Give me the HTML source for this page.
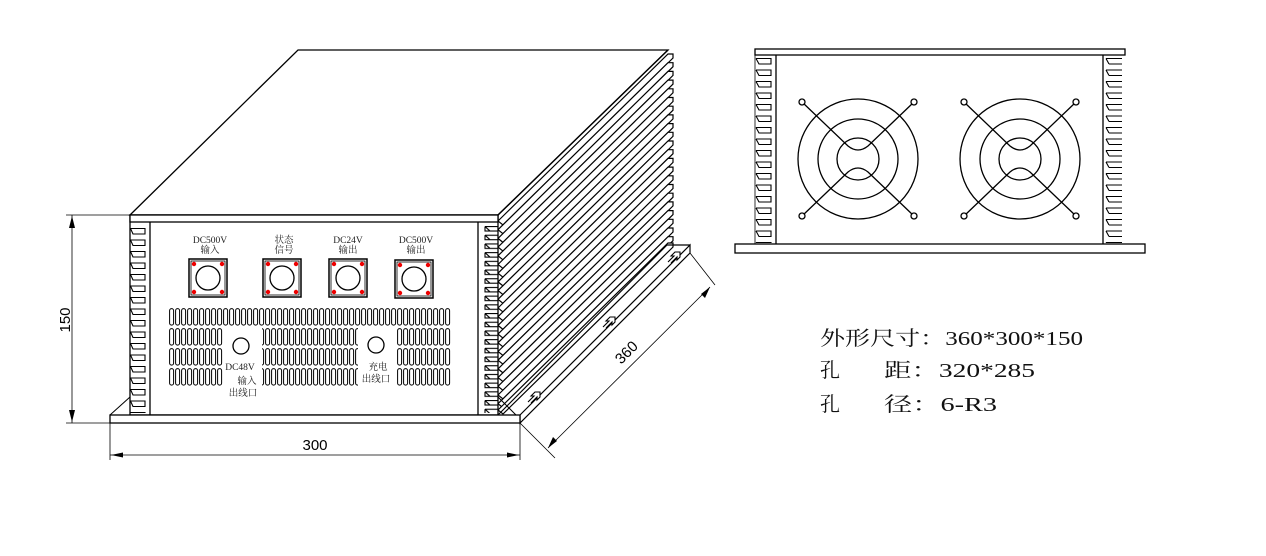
<!DOCTYPE html>
<html><head><meta charset="utf-8"><style>
html,body{margin:0;padding:0;background:#fff;}
svg{display:block;}
text{font-family:"Liberation Serif","Noto Serif CJK SC",serif;}
</style></head><body>
<svg width="1266" height="556" viewBox="0 0 1266 556" xmlns="http://www.w3.org/2000/svg">
<defs>
<pattern id="slot" patternUnits="userSpaceOnUse" x="169" y="308" width="6" height="20">
<rect x="0.6" y="0.6" width="4" height="16.5" rx="2" fill="none" stroke="#000" stroke-width="1"/>
</pattern>
<pattern id="ltooth" patternUnits="userSpaceOnUse" x="130" y="228" width="20" height="11.5">
<path d="M0.5 0.5 H15 V6 H3 L0.5 0.5" fill="#fff" stroke="#000" stroke-width="1.1"/>
</pattern>
<pattern id="rtooth" patternUnits="userSpaceOnUse" x="484" y="226" width="20" height="8.7">
<path d="M1 0.5 H14 M1 0.5 V5 H14 M1 0.5 L6 5" fill="none" stroke="#000" stroke-width="1.1"/>
</pattern>
<pattern id="rvl" patternUnits="userSpaceOnUse" x="755" y="58" width="22" height="11.5">
<path d="M1 0.5 H16 V6 H4 L1 0.5" fill="none" stroke="#000" stroke-width="1.1"/>
</pattern>
<pattern id="rvr" patternUnits="userSpaceOnUse" x="1105" y="58" width="22" height="11.5">
<path d="M1 0.5 H17 M4 6 H17 M1 0.5 L4 6" fill="none" stroke="#000" stroke-width="1.1"/>
</pattern>
<g id="fan">
<circle r="60" fill="none" stroke="#000" stroke-width="1.3"/>
<circle r="40" fill="none" stroke="#000" stroke-width="1.3"/>
<circle r="21" fill="none" stroke="#000" stroke-width="1.3"/>
<path d="M-56 -57 L-10 -13 Q0 -5 10 -13 L56 -57 M-56 57 L-10 13 Q0 5 10 13 L56 57" fill="none" stroke="#000" stroke-width="1.3"/>
<circle cx="-56" cy="-57" r="3" fill="#fff" stroke="#000" stroke-width="1.3"/>
<circle cx="56" cy="-57" r="3" fill="#fff" stroke="#000" stroke-width="1.3"/>
<circle cx="-56" cy="57" r="3" fill="#fff" stroke="#000" stroke-width="1.3"/>
<circle cx="56" cy="57" r="3" fill="#fff" stroke="#000" stroke-width="1.3"/>
</g>
<g id="fin"><path d="M498 0 L668 -167 L673 -167 L673 -163 L503 4 Z" fill="#fff" stroke="#000" stroke-width="1.2"/></g>
<g id="conn">
<rect x="0" y="0" width="38" height="38" fill="#fff" stroke="#000" stroke-width="1.5"/>
<rect x="2" y="2" width="34" height="34" fill="none" stroke="#000" stroke-width="0.8"/>
<circle cx="19" cy="19" r="12" fill="none" stroke="#000" stroke-width="1.3"/>
<circle cx="5" cy="5" r="2.2" fill="#e00"/><circle cx="33" cy="5" r="2.2" fill="#e00"/>
<circle cx="5" cy="33" r="2.2" fill="#e00"/><circle cx="33" cy="33" r="2.2" fill="#e00"/>
</g>
</defs>

<path d="M130 215 L298 50 L668 50 L498 215 Z" fill="#fff" stroke="#000" stroke-width="1.3"/>
<use href="#fin" y="221"/><use href="#fin" y="229.7"/><use href="#fin" y="238.4"/><use href="#fin" y="247.1"/>
<use href="#fin" y="255.8"/><use href="#fin" y="264.5"/><use href="#fin" y="273.2"/><use href="#fin" y="281.9"/>
<use href="#fin" y="290.6"/><use href="#fin" y="299.3"/><use href="#fin" y="308"/><use href="#fin" y="316.7"/>
<use href="#fin" y="325.4"/><use href="#fin" y="334.1"/><use href="#fin" y="342.8"/><use href="#fin" y="351.5"/>
<use href="#fin" y="360.2"/><use href="#fin" y="368.9"/><use href="#fin" y="377.6"/><use href="#fin" y="386.3"/>
<use href="#fin" y="395"/><use href="#fin" y="403.7"/><use href="#fin" y="410"/>
<path d="M498 215 L668 50" stroke="#000" stroke-width="1.3"/>

<path d="M520 415 L690 245 L690 253 L520 423 Z" fill="#fff" stroke="#000" stroke-width="1.2"/>
<path d="M498 415 L667 245 L690 245" fill="none" stroke="#000" stroke-width="1.2"/>
<path d="M528 402 l6 -6 h-3 l4 -4 h5 v5 l-3 3 v-3 l-6 6 M603 327 l6 -6 h-3 l4 -4 h5 v5 l-3 3 v-3 l-6 6 M668 262 l6 -6 h-3 l4 -4 h5 v5 l-3 3 v-3 l-6 6" fill="#fff" stroke="#000" stroke-width="1.1"/>

<rect x="130" y="215" width="368" height="200" fill="#fff" stroke="#000" stroke-width="1.3"/>
<rect x="130" y="215" width="368" height="7" fill="#fff" stroke="#000" stroke-width="1.3"/>
<line x1="150" y1="222" x2="150" y2="415" stroke="#000" stroke-width="1.3"/>
<line x1="478" y1="222" x2="478" y2="415" stroke="#000" stroke-width="1.3"/>
<rect x="130" y="228" width="19" height="185" fill="url(#ltooth)"/>
<rect x="484" y="226" width="14" height="187" fill="url(#rtooth)"/>
<path d="M110 415 L130 397 M498 397 L516 415" stroke="#000" stroke-width="1"/>
<rect x="110" y="415" width="410" height="8" fill="#fff" stroke="#000" stroke-width="1.3"/>

<use href="#conn" x="189" y="259"/>
<use href="#conn" x="263" y="259"/>
<use href="#conn" x="329" y="259"/>
<use href="#conn" x="395" y="260"/>
<g font-size="9.5" text-anchor="middle" fill="#222">
<text x="210" y="243">DC500V</text><text x="210" y="253">输入</text>
<text x="284" y="243">状态</text><text x="284" y="253">信号</text>
<text x="348" y="243">DC24V</text><text x="348" y="253">输出</text>
<text x="416" y="243">DC500V</text><text x="416" y="253">输出</text>
<text x="240" y="370">DC48V</text><text x="247" y="384">输入</text><text x="243" y="396">出线口</text>
<text x="378" y="370">充电</text><text x="376" y="382">出线口</text>
</g>
<rect x="169" y="308" width="282" height="18" fill="url(#slot)"/>
<rect x="169" y="328" width="54" height="58" fill="url(#slot)"/>
<rect x="262" y="328" width="96" height="58" fill="url(#slot)"/>
<rect x="397" y="328" width="54" height="58" fill="url(#slot)"/>
<circle cx="241" cy="346" r="8" fill="none" stroke="#000" stroke-width="1.3"/>
<circle cx="376" cy="345" r="8" fill="none" stroke="#000" stroke-width="1.3"/>

<g stroke="#000" stroke-width="0.8" fill="none">
<path d="M66 215 H130 M66 423 H110 M72 215 V423"/>
<path d="M110 423 V460 M520 423 V460 M110 455 H520"/>
<path d="M520 423 L555 458 M690 253 L715 285 M548 448 L710 287"/>
</g>
<g fill="#000">
<path d="M72 216 l-3 12 h6 z M72 422 l-3 -12 h6 z"/>
<path d="M111 455 l12 -2.5 v5 z M519 455 l-12 -2.5 v5 z"/>
<path d="M548 448 l5 -11 l4 4 z M710 287 l-5 11 l-4 -4 z"/>
</g>
<text x="70" y="320" font-size="15" text-anchor="middle" transform="rotate(-90 70 320)" style="font-family:'Liberation Sans',sans-serif">150</text>
<text x="315" y="450" font-size="15" text-anchor="middle" style="font-family:'Liberation Sans',sans-serif">300</text>
<text x="630" y="356" font-size="15" text-anchor="middle" transform="rotate(-45 630 356)" style="font-family:'Liberation Sans',sans-serif">360</text>

<rect x="755" y="49" width="370" height="6" fill="#fff" stroke="#000" stroke-width="1.3"/>
<line x1="776" y1="55" x2="776" y2="244" stroke="#000" stroke-width="1.3"/>
<line x1="1103" y1="55" x2="1103" y2="244" stroke="#000" stroke-width="1.3"/>
<line x1="755" y1="55" x2="755" y2="244" stroke="#000" stroke-width="0.8"/>
<rect x="755" y="58" width="20" height="185" fill="url(#rvl)"/>
<rect x="1105" y="58" width="20" height="185" fill="url(#rvr)"/>
<rect x="735" y="244" width="410" height="9" fill="#fff" stroke="#000" stroke-width="1.3"/>
<use href="#fan" x="858" y="159"/>
<use href="#fan" x="1020" y="159"/>

<g font-size="20" fill="#111">
<text x="820" y="345" textLength="263" lengthAdjust="spacingAndGlyphs">外形尺寸<tspan style="font-family:'Noto Serif CJK SC',serif">：</tspan>360*300*150</text>
<text x="820" y="377">孔</text><text x="884" y="377" textLength="151" lengthAdjust="spacingAndGlyphs">距<tspan style="font-family:'Noto Serif CJK SC',serif">：</tspan>320*285</text>
<text x="820" y="411">孔</text><text x="884" y="411" textLength="113" lengthAdjust="spacingAndGlyphs">径<tspan style="font-family:'Noto Serif CJK SC',serif">：</tspan>6-R3</text>
</g>
</svg>
</body></html>
